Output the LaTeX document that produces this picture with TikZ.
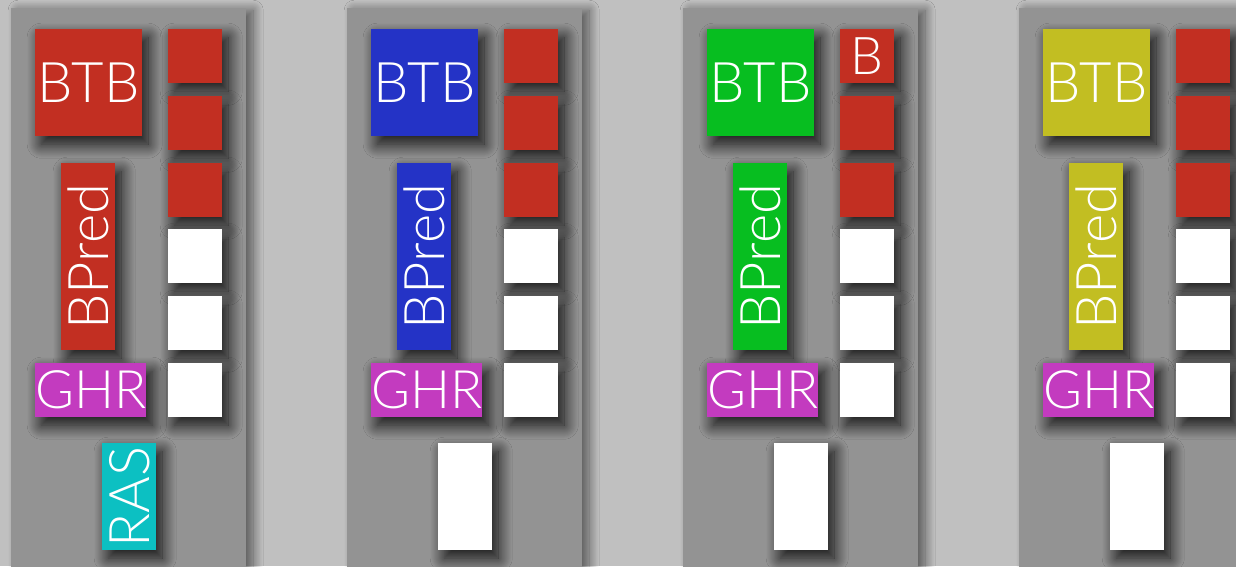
\documentclass[tikz,border=0pt]{standalone}
\usepackage{fontspec}
\newfontfamily\lightf{Lato Light}
\usetikzlibrary{shadows.blur}
\definecolor{bg}{HTML}{C0C0C0}
\definecolor{panelc}{HTML}{939393}
\definecolor{cred}{HTML}{C22F22}
\definecolor{cblue}{HTML}{2433C6}
\definecolor{cgreen}{HTML}{07BE20}
\definecolor{cyel}{HTML}{C2BE22}
\definecolor{cmag}{HTML}{C33BBF}
\definecolor{ccyan}{HTML}{0CC0C2}
\tikzset{
  shd/.style={blur shadow={shadow xshift=6pt, shadow yshift=-8pt, shadow blur radius=14pt, shadow opacity=90, shadow blur steps=30}},
  pshd/.style={blur shadow={shadow xshift=7pt, shadow yshift=-2pt, shadow blur radius=10pt, shadow opacity=55, shadow blur steps=24}},
  bigfont/.style={font=\lightf\fontsize{56}{56}\selectfont},
  blk/.style={shd, draw=none, inner sep=0pt, anchor=north west, text=white, bigfont},
  panel/.style={pshd, fill=panelc, draw=none, inner sep=0pt, anchor=north west, minimum width=235pt, minimum height=600pt},
  sq/.style={blk, minimum width=54pt, minimum height=54pt},
  big/.style={blk, minimum width=107pt, minimum height=107pt},
  tall/.style={blk, minimum width=54pt, minimum height=187pt},
  wide/.style={blk, minimum width=107pt, minimum height=54pt, font=\lightf\fontsize{53}{53}\selectfont},
  bot/.style={blk, minimum width=54pt, minimum height=107pt},
  vlabel/.style={rotate=90, text=white, bigfont, inner sep=0pt}
}
\begin{document}
\begin{tikzpicture}[x=1pt,y=-1pt]
\useasboundingbox (0,0) rectangle (1236,566);
\fill[bg] (0,0) rectangle (1236,566);
\clip (0,0) rectangle (1236,566);
\foreach \i/\c/\bc/\bt in {0/cred/ccyan/RAS,1/cblue/white/{},2/cgreen/white/{},3/cyel/white/{}}{
  \pgfmathsetmacro{\dx}{336*\i}
  \node[panel] (p\i) at (11+\dx,8) {};
  \node[big, fill=\c] (btb\i) at (35+\dx,29) {BTB};
  \node[tall, fill=\c] (bp\i) at (61+\dx,163) {};
  \node[vlabel] (bpt\i) at (bp\i.center) {BPred};
  \node[wide, fill=cmag] (ghr\i) at (35+\dx,363) {GHR};
  \node[bot, fill=\bc] (bt\i) at (102+\dx,443) {};
  \node[vlabel] (btt\i) at (bt\i.center) {\bt};
  \node[sq, fill=cred] (sa\i) at (168+\dx,29) {};
  \node[sq, fill=cred] (sb\i) at (168+\dx,96) {};
  \node[sq, fill=cred] (sc\i) at (168+\dx,163) {};
  \node[sq, fill=white] (sd\i) at (168+\dx,229) {};
  \node[sq, fill=white] (se\i) at (168+\dx,296) {};
  \node[sq, fill=white] (sf\i) at (168+\dx,363) {};
}
\node[text=white, font=\lightf\fontsize{52}{52}\selectfont, inner sep=0pt] (bl) at (sa2.center) {B};
\end{tikzpicture}
\end{document}
